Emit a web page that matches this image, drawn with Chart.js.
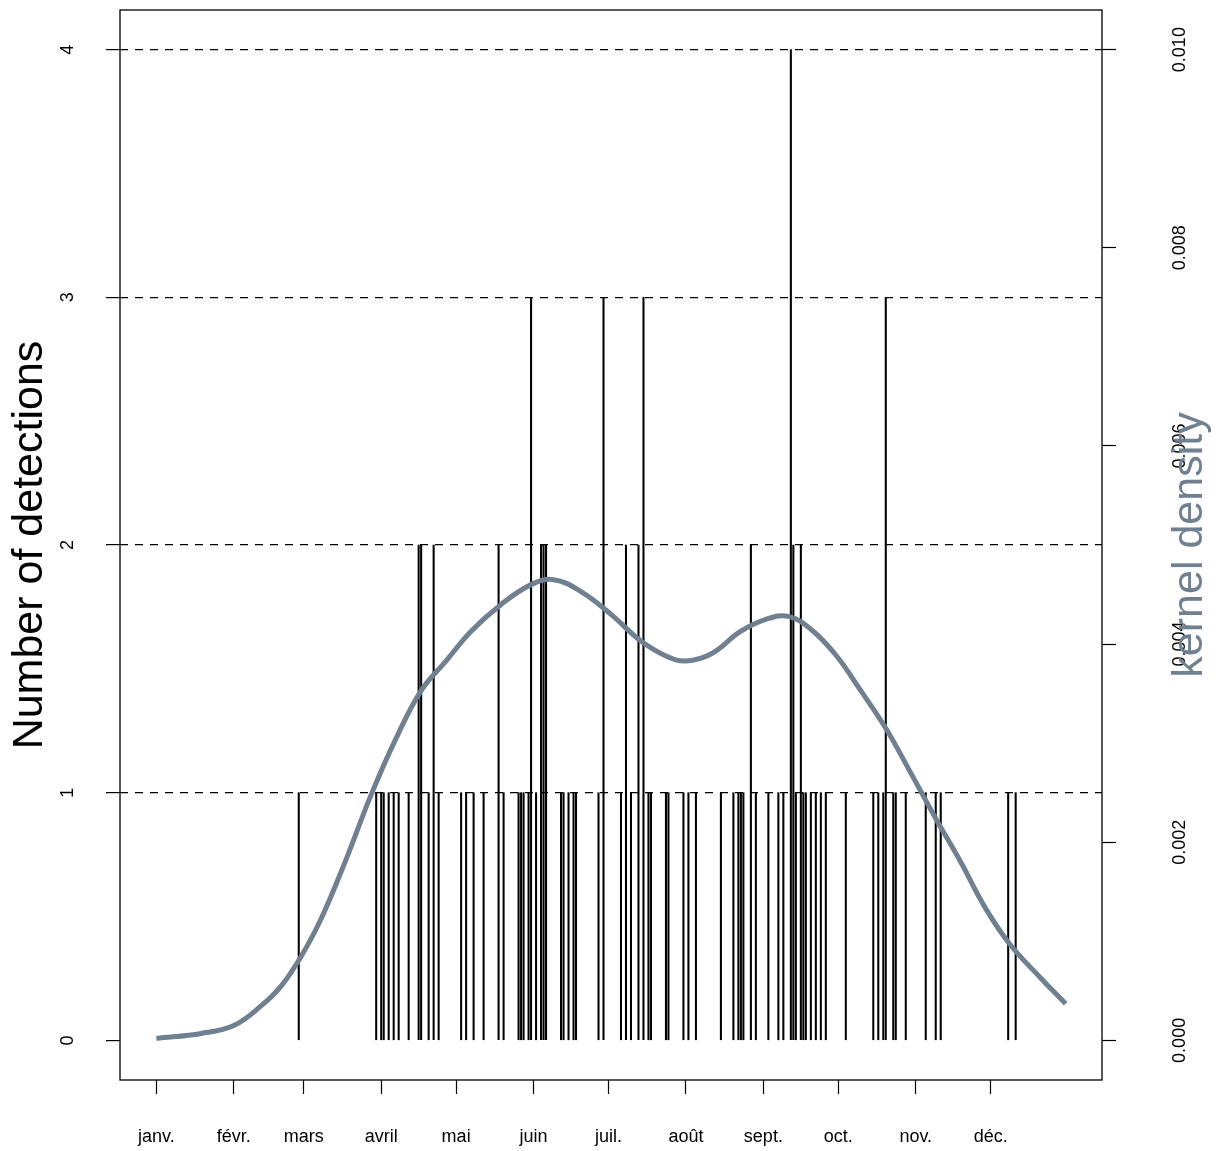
<!DOCTYPE html>
<html>
<head>
<meta charset="utf-8">
<script src="https://cdn.jsdelivr.net/npm/chart.js@4.4.1/dist/chart.umd.min.js"></script>
<style>
  html, body { margin: 0; padding: 0; background: #fff; }
  #wrap { width: 1223px; height: 1151px; }
</style>
</head>
<body>
<div id="wrap"><canvas id="chart"></canvas></div>
<script>
// month starts (day of year) and their labels
const monthDays = [1, 32, 60, 91, 121, 152, 182, 213, 244, 274, 305, 335];
const monthLabels = ['janv.', 'févr.', 'mars', 'avril', 'mai', 'juin', 'juil.', 'août', 'sept.', 'oct.', 'nov.', 'déc.'];

// detections per day of year
const detectionDays = [58, 89, 91, 92, 94, 96, 98, 102, 106, 107, 110, 112, 114, 123, 125, 128, 132, 138, 140,
  146, 147, 148, 150, 151, 153, 155, 156, 157, 163, 164, 166, 168, 169, 178, 180, 187, 189, 191, 194, 196,
  198, 199, 205, 206, 212, 214, 217, 227, 232, 234, 235, 236, 239, 241, 246, 250, 252, 255, 256, 257, 259,
  260, 261, 263, 265, 267, 269, 277, 288, 290, 292, 293, 296, 297, 301, 309, 313, 315, 342, 345];
const detectionCounts = [1, 1, 1, 1, 1, 1, 1, 1, 2, 2, 1, 2, 1, 1, 1, 1, 1, 2, 1,
  1, 1, 1, 1, 3, 1, 2, 2, 2, 1, 1, 1, 1, 1, 1, 3, 1, 2, 1, 2, 3,
  1, 1, 1, 1, 1, 1, 1, 1, 1, 1, 1, 1, 2, 1, 1, 1, 1, 4, 2, 1, 2,
  1, 1, 1, 1, 1, 1, 1, 1, 1, 1, 3, 1, 1, 1, 1, 1, 1, 1, 1];

// kernel density curve
const densityDays = [1, 19, 32, 43, 51, 59, 67, 77, 87, 97, 107, 117, 127, 139, 151, 160, 171, 183, 195,
  205, 213, 223, 235, 245, 254, 263, 273, 283, 293, 303, 313, 323, 333, 343, 355, 365];
const densityValues = [0.00002, 0.00007, 0.00015, 0.00035, 0.00055, 0.00085, 0.00123, 0.00183, 0.00248,
  0.00305, 0.00353, 0.00383, 0.00413, 0.0044, 0.0046, 0.00465, 0.00453, 0.0043, 0.00403, 0.00388, 0.00383,
  0.0039, 0.00413, 0.00425, 0.00428, 0.00415, 0.00389, 0.00353, 0.00315, 0.0027, 0.00224, 0.0018,
  0.00133, 0.00096, 0.00063, 0.00037];

const countTicks = [0, 1, 2, 3, 4];
const densityTicks = [0, 0.002, 0.004, 0.006, 0.008, 0.010];

Chart.defaults.font.family = '"Liberation Sans", Arial, Helvetica, sans-serif';
Chart.defaults.color = '#000';

// box around the plot + right-hand title (R mtext reads bottom to top)
const framePlugin = {
  id: 'frame',
  afterDraw(chart) {
    const { ctx, chartArea: a } = chart;
    ctx.save();
    ctx.strokeStyle = '#000';
    ctx.lineWidth = 1.3;
    ctx.strokeRect(a.left, a.top, a.right - a.left, a.bottom - a.top);
    ctx.translate(1190, (a.top + a.bottom) / 2);
    ctx.rotate(-Math.PI / 2);
    ctx.fillStyle = '#708090';
    ctx.font = '43px "Liberation Sans", Arial, sans-serif';
    ctx.textAlign = 'center';
    ctx.textBaseline = 'middle';
    ctx.fillText('kernel density', 0, 0);
    ctx.restore();
  }
};

// fixed margins like the R device: no extra room for overflowing labels
const fixSide = (s, w) => {
  s.width = w;
  s.paddingTop = 0;
  s.paddingBottom = 0;
};

const ctx = document.getElementById('chart').getContext('2d');
new Chart(ctx, {
  type: 'bar',
  data: {
    datasets: [
      {
        type: 'line',
        label: 'kernel density',
        data: densityDays.map((d, i) => ({ x: d, y: densityValues[i] })),
        yAxisID: 'y2',
        borderColor: '#708090',
        borderWidth: 5,
        pointRadius: 0,
        fill: false,
        tension: 0.4,
        order: 0
      },
      {
        type: 'bar',
        label: 'detections',
        data: detectionDays.map((d, i) => ({ x: d, y: detectionCounts[i] })),
        yAxisID: 'y',
        backgroundColor: '#000',
        barThickness: 1.4,
        order: 1
      }
    ]
  },
  options: {
    responsive: true,
    maintainAspectRatio: false,
    animation: false,
    layout: { padding: { top: 10 } },
    plugins: { legend: { display: false }, tooltip: { enabled: false } },
    scales: {
      x: {
        type: 'linear',
        min: -13.56,
        max: 379.56,
        offset: false,
        afterBuildTicks: s => { s.ticks = monthDays.map(v => ({ value: v })); },
        afterFit: s => { s.height = 71; s.paddingLeft = 0; s.paddingRight = 0; },
        ticks: {
          autoSkip: false,
          maxRotation: 0,
          padding: 32,
          font: { size: 18 },
          callback: (v, i) => monthLabels[i]
        },
        grid: { offset: false, drawOnChartArea: false, tickLength: 14, tickColor: '#000', tickWidth: 1.2 },
        border: { display: false }
      },
      y: {
        position: 'left',
        min: -0.16,
        max: 4.16,
        afterBuildTicks: s => { s.ticks = countTicks.map(v => ({ value: v })); },
        afterFit: s => fixSide(s, 120),
        ticks: { minRotation: 90, maxRotation: 90, crossAlign: 'center', padding: 33, font: { size: 18 } },
        grid: {
          color: c => (c.tick && c.tick.value === 0 ? 'rgba(0,0,0,0)' : '#000'),
          lineWidth: 1.2,
          tickLength: 14,
          tickColor: '#000',
          tickWidth: 1.2
        },
        border: { display: false, dash: [8, 7] },
        title: {
          display: true,
          text: 'Number of detections',
          font: { size: 43 },
          color: '#000',
          padding: { top: 4, bottom: 0 }
        }
      },
      y2: {
        position: 'right',
        min: -0.0004,
        max: 0.0104,
        afterBuildTicks: s => { s.ticks = densityTicks.map(v => ({ value: v })); },
        afterFit: s => fixSide(s, 121),
        ticks: {
          minRotation: 90, maxRotation: 90, crossAlign: 'center', padding: 42, font: { size: 18 },
          callback: v => v.toFixed(3)
        },
        grid: { drawOnChartArea: false, tickLength: 14, tickColor: '#000', tickWidth: 1.2 },
        border: { display: false }
      }
    }
  },
  plugins: [framePlugin]
});
</script>
</body>
</html>
